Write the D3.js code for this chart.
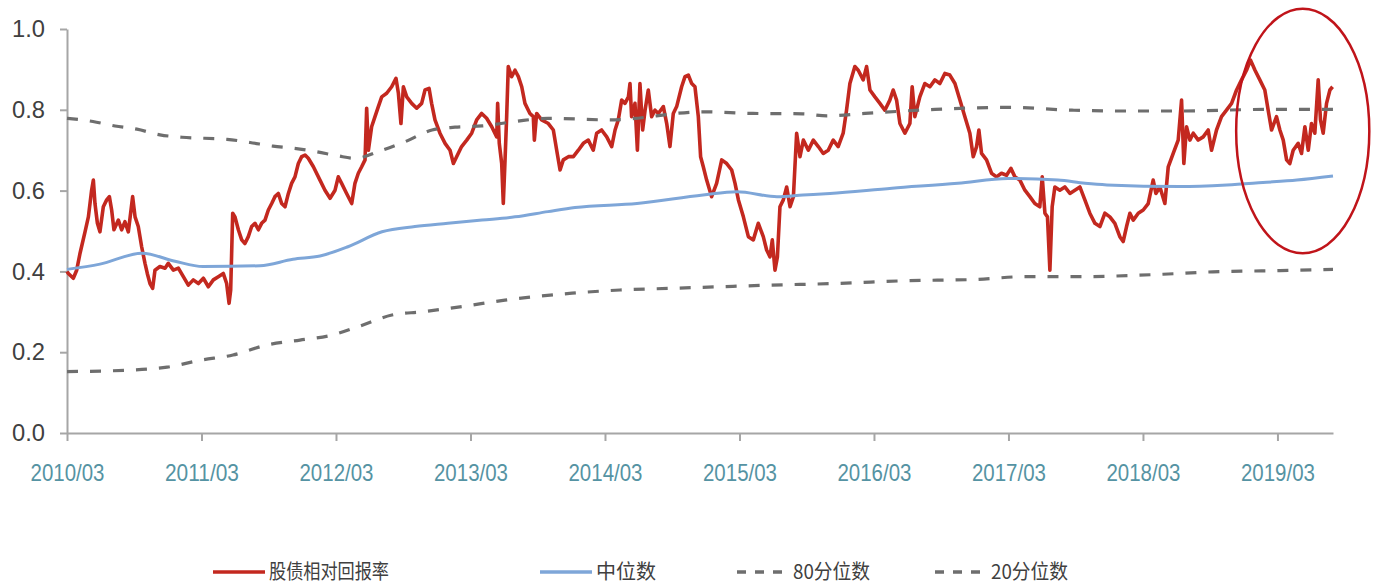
<!DOCTYPE html>
<html><head><meta charset="utf-8">
<script src="https://cdn.jsdelivr.net/npm/d3@7"></script>
<style>
body{margin:0;background:#fff}
svg text{font-family:"Liberation Sans",Arial,sans-serif}
</style>
</head><body>
<svg id="chart" width="1379" height="585"></svg>
<script>
// ---- data (x in decimal years, March of each year = year + 2/12) ----
const tickYears = [2010.167,2011.167,2012.167,2013.167,2014.167,2015.167,2016.167,2017.167,2018.167,2019.167];
const tickLabels = ["2010/03","2011/03","2012/03","2013/03","2014/03","2015/03","2016/03","2017/03","2018/03","2019/03"];
const yTicks = [0,0.2,0.4,0.6,0.8,1.0];
const seriesNames = ["股债相对回报率","中位数","80分位数","20分位数"];

const ratioT = [2010.167,2010.177,2010.214,2010.239,2010.264,2010.301,2010.326,2010.350,2010.363,2010.375,2010.393,2010.412,2010.437,2010.462,2010.482,2010.499,2010.516,2010.549,2010.573,2010.598,2010.623,2010.640,2010.655,2010.673,2010.697,2010.722,2010.747,2010.764,2010.784,2010.804,2010.821,2010.858,2010.896,2010.920,2010.958,2010.995,2011.032,2011.069,2011.106,2011.144,2011.181,2011.218,2011.255,2011.292,2011.329,2011.354,2011.372,2011.384,2011.399,2011.416,2011.441,2011.466,2011.490,2011.515,2011.540,2011.565,2011.590,2011.614,2011.639,2011.664,2011.689,2011.713,2011.738,2011.763,2011.788,2011.813,2011.837,2011.862,2011.887,2011.912,2011.937,2011.961,2011.999,
2012.048,2012.085,2012.123,2012.160,2012.184,2012.209,2012.246,2012.284,2012.308,2012.333,2012.358,2012.383,2012.395,2012.408,2012.432,2012.457,2012.482,2012.507,2012.544,2012.581,2012.613,2012.631,2012.650,2012.668,2012.693,2012.730,2012.767,2012.804,2012.829,2012.859,2012.878,2012.903,2012.940,2012.978,2013.015,2013.040,2013.064,2013.101,2013.139,2013.176,2013.213,2013.250,2013.287,2013.325,2013.362,2013.369,2013.381,2013.399,2013.411,2013.424,2013.436,2013.448,2013.473,2013.498,2013.523,2013.548,2013.572,2013.609,2013.634,2013.642,2013.659,2013.696,2013.746,2013.783,2013.808,2013.833,2013.857,2013.895,
2013.932,2013.969,2014.006,2014.043,2014.080,2014.105,2014.142,2014.180,2014.217,2014.242,2014.266,2014.291,2014.316,2014.341,2014.353,2014.365,2014.390,2014.408,2014.427,2014.447,2014.465,2014.489,2014.514,2014.539,2014.564,2014.601,2014.626,2014.650,2014.675,2014.700,2014.737,2014.762,2014.787,2014.812,2014.836,2014.861,2014.878,2014.898,2014.923,2014.960,2014.997,2015.035,2015.072,2015.109,2015.134,2015.159,2015.196,2015.233,2015.270,2015.307,2015.344,2015.369,2015.394,2015.411,2015.431,2015.449,2015.468,2015.493,2015.518,2015.543,2015.568,2015.592,2015.617,2015.642,2015.679,2015.716,2015.753,2015.790,
2015.827,2015.864,2015.901,2015.938,2015.963,2015.988,2016.025,2016.050,2016.087,2016.112,2016.137,2016.174,2016.211,2016.248,2016.285,2016.310,2016.335,2016.360,2016.397,2016.434,2016.451,2016.471,2016.508,2016.545,2016.583,2016.620,2016.657,2016.694,2016.731,2016.769,2016.806,2016.843,2016.880,2016.905,2016.930,2016.947,2016.967,2017.004,2017.041,2017.078,2017.115,2017.153,2017.185,2017.215,2017.252,2017.289,2017.326,2017.363,2017.400,2017.418,2017.438,2017.457,2017.475,2017.492,2017.512,2017.549,2017.586,2017.624,2017.661,2017.698,
2017.735,2017.772,2017.810,2017.847,2017.884,2017.921,2017.958,2017.995,2018.020,2018.045,2018.070,2018.095,2018.132,2018.169,2018.206,2018.243,2018.263,2018.293,2018.330,2018.355,2018.392,2018.429,2018.454,2018.471,2018.491,2018.516,2018.541,2018.578,2018.615,2018.652,2018.677,2018.714,2018.751,2018.788,2018.826,2018.863,2018.900,2018.937,2018.967,2019.000,2019.036,2019.073,2019.098,2019.123,2019.160,2019.185,2019.210,2019.235,2019.259,2019.284,2019.321,2019.346,2019.371,2019.396,2019.420,2019.445,2019.470,2019.487,2019.507,2019.532,2019.557,2019.577];
const ratioV = [0.400,0.395,0.383,0.403,0.445,0.498,0.535,0.601,0.626,0.568,0.519,0.498,0.560,0.577,0.585,0.552,0.503,0.527,0.503,0.523,0.498,0.544,0.585,0.535,0.511,0.461,0.420,0.395,0.370,0.358,0.403,0.412,0.408,0.420,0.403,0.408,0.387,0.366,0.379,0.370,0.383,0.362,0.379,0.387,0.395,0.370,0.321,0.354,0.544,0.535,0.503,0.478,0.469,0.486,0.511,0.519,0.503,0.519,0.527,0.552,0.568,0.585,0.593,0.568,0.560,0.593,0.618,0.634,0.667,0.684,0.688,0.680,0.659,
0.626,0.601,0.581,0.601,0.634,0.618,0.593,0.568,0.618,0.643,0.659,0.676,0.804,0.700,0.758,0.783,0.808,0.832,0.841,0.857,0.878,0.841,0.766,0.857,0.832,0.816,0.804,0.816,0.849,0.853,0.816,0.775,0.742,0.717,0.700,0.667,0.684,0.709,0.725,0.742,0.775,0.791,0.779,0.758,0.733,0.816,0.717,0.667,0.568,0.676,0.783,0.907,0.882,0.898,0.882,0.857,0.816,0.791,0.783,0.725,0.791,0.775,0.766,0.750,0.700,0.651,0.676,0.684,
0.684,0.700,0.717,0.725,0.700,0.742,0.750,0.733,0.709,0.750,0.775,0.824,0.816,0.832,0.865,0.783,0.816,0.700,0.865,0.750,0.799,0.849,0.783,0.799,0.791,0.808,0.766,0.709,0.791,0.808,0.857,0.882,0.886,0.865,0.857,0.783,0.684,0.659,0.626,0.585,0.618,0.676,0.667,0.651,0.618,0.577,0.535,0.486,0.478,0.519,0.486,0.453,0.436,0.478,0.403,0.436,0.560,0.577,0.609,0.560,0.585,0.742,0.684,0.725,0.700,0.725,0.709,0.692,
0.700,0.725,0.709,0.742,0.799,0.865,0.907,0.898,0.874,0.907,0.849,0.832,0.816,0.799,0.824,0.849,0.824,0.766,0.742,0.766,0.857,0.783,0.832,0.865,0.857,0.874,0.865,0.890,0.886,0.865,0.824,0.783,0.742,0.684,0.709,0.750,0.692,0.676,0.643,0.634,0.643,0.638,0.655,0.634,0.626,0.601,0.585,0.568,0.560,0.634,0.544,0.535,0.403,0.560,0.609,0.601,0.609,0.593,0.601,0.609,
0.577,0.544,0.519,0.511,0.544,0.535,0.519,0.486,0.474,0.511,0.544,0.527,0.544,0.552,0.568,0.626,0.593,0.609,0.568,0.659,0.692,0.725,0.824,0.667,0.758,0.725,0.742,0.725,0.733,0.750,0.700,0.750,0.783,0.799,0.816,0.849,0.874,0.898,0.923,0.898,0.874,0.849,0.799,0.750,0.783,0.750,0.725,0.676,0.667,0.700,0.717,0.692,0.758,0.700,0.766,0.742,0.874,0.775,0.742,0.816,0.849,0.857];

const medianT = [2010.167,2010.412,2010.725,2010.970,2011.178,2011.602,2011.847,2012.048,2012.256,2012.509,2012.754,2012.999,2013.253,2013.498,2013.743,2013.944,2014.405,2014.896,2015.148,2015.446,2015.639,2015.840,2016.301,2016.791,2017.163,2017.535,2017.736,2017.899,2018.442,2018.791,2019.059,2019.312,2019.580];
const medianV = [0.405,0.418,0.445,0.425,0.412,0.414,0.430,0.438,0.461,0.498,0.511,0.519,0.527,0.535,0.548,0.558,0.568,0.589,0.597,0.585,0.589,0.593,0.606,0.618,0.630,0.626,0.618,0.614,0.610,0.614,0.620,0.626,0.636];

const p80T = [2010.167,2010.360,2010.524,2010.687,2010.858,2011.022,2011.357,2011.528,2011.699,2011.847,2012.026,2012.182,2012.308,2012.509,2012.680,2012.881,2013.052,2013.253,2013.498,2013.743,2014.204,2014.896,2015.268,2015.639,2015.818,2016.100,2016.621,2017.163,2017.639,2017.996,2018.442,2019.089,2019.580];
const p80V = [0.779,0.771,0.760,0.752,0.738,0.732,0.727,0.719,0.710,0.705,0.696,0.686,0.680,0.700,0.721,0.750,0.757,0.760,0.771,0.779,0.775,0.795,0.791,0.790,0.785,0.791,0.801,0.806,0.799,0.797,0.797,0.801,0.801];

const p20T = [2010.167,2010.658,2010.911,2011.156,2011.401,2011.654,2011.899,2012.145,2012.330,2012.583,2012.806,2013.104,2013.423,2013.624,2013.922,2014.279,2014.650,2015.022,2015.394,2015.877,2016.420,2016.918,2017.290,2017.684,2018.316,2018.687,2019.186,2019.580];
const p20V = [0.152,0.156,0.163,0.180,0.193,0.218,0.230,0.243,0.263,0.292,0.300,0.313,0.329,0.337,0.346,0.354,0.358,0.362,0.366,0.370,0.377,0.380,0.387,0.387,0.393,0.399,0.402,0.405];

// highlighted region (ellipse) in data units
const highlightT = [2018.86, 2019.85];
const highlightV = [0.445, 1.05];

// ---- drawing ----
const svg = d3.select("#chart");
svg.append("rect").attr("width",1379).attr("height",585).attr("fill","#fff");

const x = d3.scaleLinear().domain([2010.167, 2019.58]).range([67, 1333]);
const y = d3.scaleLinear().domain([0, 1]).range([433, 29]);

const axisColor = "#a6a6a6";
const gy = svg.append("g").attr("transform", `translate(${x(2010.167)},0)`)
  .call(d3.axisLeft(y).tickValues(yTicks).tickFormat(d3.format(".1f")).tickSize(7).tickSizeOuter(0).tickPadding(15));
gy.select(".domain").attr("stroke", axisColor).attr("stroke-width", 2);
gy.selectAll(".tick line").attr("stroke", axisColor).attr("stroke-width", 2);
gy.selectAll(".tick text").attr("fill", "#404040").attr("font-size", 24)
  .attr("textLength", 33).attr("lengthAdjust","spacingAndGlyphs")
  .style("font-family","'Liberation Sans',Arial,sans-serif");

const gx = svg.append("g").attr("transform", `translate(0,${y(0)})`)
  .call(d3.axisBottom(x).tickValues(tickYears).tickFormat((d,i)=>tickLabels[i]).tickSize(8).tickSizeOuter(0).tickPadding(23));
gx.select(".domain").attr("stroke", axisColor).attr("stroke-width", 2);
gx.selectAll(".tick line").attr("stroke", axisColor).attr("stroke-width", 2);
gx.selectAll(".tick text").attr("fill", "#5593a3").attr("font-size", 24)
  .attr("textLength", 74).attr("lengthAdjust","spacingAndGlyphs")
  .style("font-family","'Liberation Sans',Arial,sans-serif");

const line = d3.line().x(d => x(d[0])).y(d => y(d[1]));
const smooth = d3.line().x(d => x(d[0])).y(d => y(d[1])).curve(d3.curveMonotoneX);
const red = "#c3281f", blue = "#7ea6d8", gray = "#6e6e6e";

svg.append("path").datum(d3.zip(ratioT, ratioV)).attr("d", line)
  .attr("fill","none").attr("stroke", red).attr("stroke-width", 3.6).attr("stroke-linejoin","round");
svg.append("path").datum(d3.zip(medianT, medianV)).attr("d", smooth)
  .attr("fill","none").attr("stroke", blue).attr("stroke-width", 3);
svg.append("path").datum(d3.zip(p80T, p80V)).attr("d", smooth)
  .attr("fill","none").attr("stroke", gray).attr("stroke-width", 3.2).attr("stroke-dasharray","11,12");
svg.append("path").datum(d3.zip(p20T, p20V)).attr("d", smooth)
  .attr("fill","none").attr("stroke", gray).attr("stroke-width", 3.2).attr("stroke-dasharray","11,12");

// highlight ellipse
const ex0 = x(highlightT[0]), ex1 = x(highlightT[1]), ey0 = y(highlightV[1]), ey1 = y(highlightV[0]);
svg.append("ellipse").attr("cx",(ex0+ex1)/2).attr("cy",(ey0+ey1)/2)
  .attr("rx",(ex1-ex0)/2).attr("ry",(ey1-ey0)/2)
  .attr("fill","none").attr("stroke","#c0141a").attr("stroke-width",2.5);

// legend
const legendItems = [
  {name: seriesNames[0], color: red, dash: null, x0: 213, w: 120},
  {name: seriesNames[1], color: blue, dash: null, x0: 540, w: 60},
  {name: seriesNames[2], color: gray, dash: "9,9", x0: 737, w: 77},
  {name: seriesNames[3], color: gray, dash: "9,9", x0: 935, w: 77}
];
const lg = svg.append("g");
legendItems.forEach(it => {
  const l = lg.append("line").attr("x1", it.x0).attr("x2", it.x0 + 52).attr("y1", 572).attr("y2", 572)
    .attr("stroke", it.color).attr("stroke-width", 3.4);
  if (it.dash) l.attr("stroke-dasharray", it.dash);
  lg.append("text").attr("x", it.x0 + 56).attr("y", 572).attr("dy","0.36em")
    .attr("font-size", 20).attr("fill","#404040")
    .attr("textLength", it.w).attr("lengthAdjust","spacingAndGlyphs")
    .style("font-family","'Noto Sans CJK SC',sans-serif")
    .text(it.name);
});
</script>
</body></html>
